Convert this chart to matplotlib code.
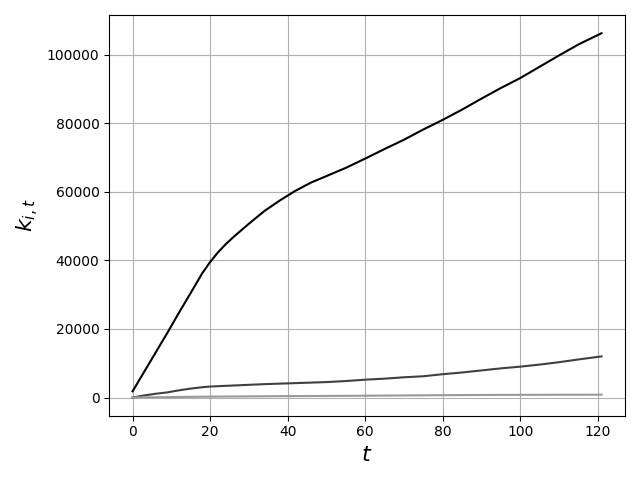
import matplotlib
matplotlib.use("Agg")
import matplotlib.pyplot as plt

# time points and stock values
t = [0, 3, 6, 9, 12, 15, 18, 20, 22, 24, 26, 30, 34, 38, 42, 46, 50, 55, 60, 65,
     70, 75, 80, 85, 90, 95, 100, 105, 110, 115, 121]
k_top = [1800, 7500, 13200, 18900, 24800, 30500, 36300, 39500, 42300, 44700, 46800,
         50700, 54400, 57500, 60300, 62700, 64600, 67000, 69700, 72500, 75200, 78200,
         81000, 84000, 87200, 90300, 93200, 96500, 99800, 103000, 106300]
k_mid = [0, 600, 1100, 1500, 2100, 2600, 3000, 3200, 3300, 3400, 3500, 3700, 3900,
         4050, 4200, 4350, 4500, 4800, 5200, 5500, 5900, 6200, 6800, 7300, 7900,
         8500, 9000, 9600, 10300, 11100, 12000]
k_low = [0, 40, 80, 120, 160, 200, 230, 250, 270, 285, 300, 330, 360, 390, 410,
         440, 460, 490, 520, 560, 600, 640, 680, 710, 740, 760, 780, 790, 800, 810, 820]

fig, ax = plt.subplots(figsize=(6.4, 4.8), dpi=100)
ax.plot(t, k_top, color="black")
ax.plot(t, k_mid, color="#404040")
ax.plot(t, k_low, color="#999999")
ax.grid(True, color="#b0b0b0")
ax.set_xlabel("$t$", fontsize=16)
ax.set_ylabel("$k_{i,t}$", fontsize=16)
plt.tight_layout()
plt.savefig("out.png")
